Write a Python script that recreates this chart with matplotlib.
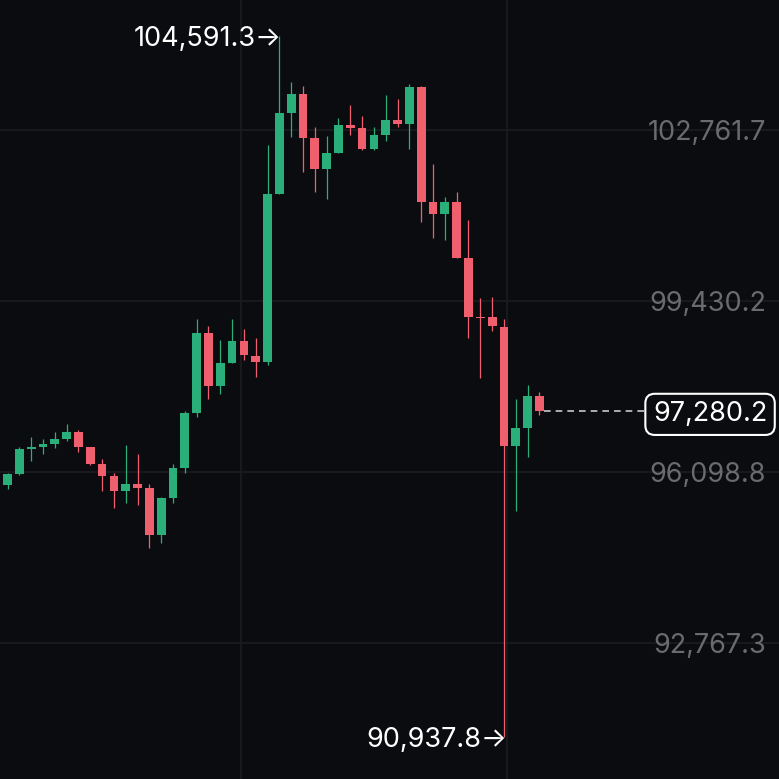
import matplotlib.pyplot as plt
import matplotlib.transforms as mtransforms
import numpy as np

# OHLC candles
opens = [95845.5, 96059.8, 96546.8, 96585.8, 96644.3, 96741.7, 96878.0, 96585.8, 96254.6, 96020.8,
         95728.6, 95865.0, 95787.0, 94871.4, 95592.2, 96176.7, 97248.2, 98806.8, 97774.3, 98222.3,
         98651.0, 98358.7, 98241.8, 101515.0, 103093.1, 103463.1, 102606.0, 102002.1, 102313.8, 102859.3,
         102800.8, 102391.7, 102664.5, 102956.7, 102878.8, 103599.5, 101359.2, 101125.4, 101359.2, 100268.0,
         99118.6, 99118.6, 98923.7, 96605.3, 96956.0, 97579.4]
highs = [96070.0, 96585.0, 96780.6, 96741.7, 96878.0, 97033.9, 96917.0, 96590.0, 96352.0, 96079.3,
         96624.8, 96449.4, 95865.0, 95611.7, 96254.6, 97287.0, 99079.6, 98943.2, 98670.5, 99079.6,
         98884.8, 98709.4, 102469.7, 104591.3, 103696.9, 103619.0, 102820.3, 102645.0, 102995.6, 103248.8,
         103034.6, 102820.3, 103443.6, 103365.7, 103657.9, 103620.0, 102099.3, 101456.6, 101554.0, 101008.5,
         99488.7, 99508.2, 99079.6, 97521.0, 97793.7, 97657.4]
lows = [95767.5, 96040.0, 96313.1, 96449.4, 96566.3, 96702.7, 96488.4, 96235.1, 95728.6, 95397.4,
        95494.8, 95455.8, 94618.1, 94715.5, 95494.8, 96079.3, 97170.3, 97521.0, 97618.4, 98222.3,
        98280.8, 97949.6, 98183.4, 101515.0, 102625.5, 101943.6, 101554.0, 101417.6, 102313.8, 102664.5,
        102372.2, 102372.2, 102547.6, 102820.3, 102391.7, 100969.5, 100657.8, 100618.7, 100268.0, 98709.4,
        97930.1, 98845.8, 90937.8, 95338.9, 96391.0, 97209.2]
closes = [96059.8, 96546.8, 96585.8, 96644.3, 96741.7, 96878.0, 96585.8, 96254.6, 96020.8, 95728.6,
          95865.0, 95787.0, 94871.4, 95592.2, 96176.7, 97248.2, 98806.8, 97774.3, 98222.3, 98651.0,
          98378.2, 98241.8, 101515.0, 103093.1, 103463.1, 102606.0, 102002.1, 102313.8, 102859.3, 102800.8,
          102391.7, 102664.5, 102956.7, 102878.8, 103599.5, 101359.2, 101125.4, 101359.2, 100268.0, 99118.6,
          99100.0, 98943.2, 96605.3, 96956.0, 97579.4, 97280.2]

price_ticks = [92767.3, 96098.8, 99430.2, 102761.7]
last_price = 97280.2
max_idx, max_price = 23, 104591.3
min_idx, min_price = 42, 90937.8

bg = '#0b0c0f'
green = '#2aae7a'
red = '#ef5f6e'

fig = plt.figure(figsize=(7.79, 7.79), dpi=100, facecolor=bg)
ax = fig.add_axes([0, 0, 1, 1])
ax.set_facecolor(bg)
ax.set_axis_off()

x = np.arange(len(opens))
o = np.array(opens)
c = np.array(closes)
colors = [green if cc >= oo else red for oo, cc in zip(o, c)]
body_bottom = np.minimum(o, c)
body_h = np.maximum(np.abs(c - o), 18)

ax.vlines(x, lows, highs, colors=colors, linewidth=0.9, zorder=3)
ax.bar(x, body_h, bottom=body_bottom, width=0.74, color=colors, zorder=4)

# grid
for p in price_ticks:
    ax.axhline(p, color='#1b1c20', linewidth=1.2, zorder=1)
for gx in [19.75, 42.3]:
    ax.axvline(gx, color='#1b1c20', linewidth=1.2, zorder=1)

ax.set_xlim(-0.635, 65.27)
ax.set_ylim(90117.8, 105294.4)

font = ['Inter', 'DejaVu Sans']
trans = mtransforms.blended_transform_factory(ax.transAxes, ax.transData)
for p in price_ticks:
    ax.text(0.983, p, f'{p:,.1f}', transform=trans, ha='right', va='center_baseline',
            color='#6a6b6f', fontsize=19.5, family=font, zorder=5)

# last price line and tag
ax.plot([45.4, 53.85], [last_price, last_price], color='#c8c8c8', linewidth=1.2,
        linestyle=(0, (4, 3)), zorder=2)
ax.text(0.9115, last_price, f'{last_price:,.1f}', transform=trans, ha='center', va='center_baseline',
        color='white', fontsize=19.5, family=font, zorder=6,
        bbox=dict(boxstyle='round,pad=0.28,rounding_size=0.35', facecolor=bg, edgecolor='white', linewidth=1.5))

# high / low markers
ax.text(max_idx + 0.2, max_price, f'{max_price:,.1f}→', ha='right', va='center_baseline',
        color='white', fontsize=19.5, family=font, zorder=6)
ax.text(min_idx + 0.3, min_price, f'{min_price:,.1f}→', ha='right', va='center_baseline',
        color='white', fontsize=19.5, family=font, zorder=6)

fig.savefig('out.png', dpi=100, facecolor=bg)
